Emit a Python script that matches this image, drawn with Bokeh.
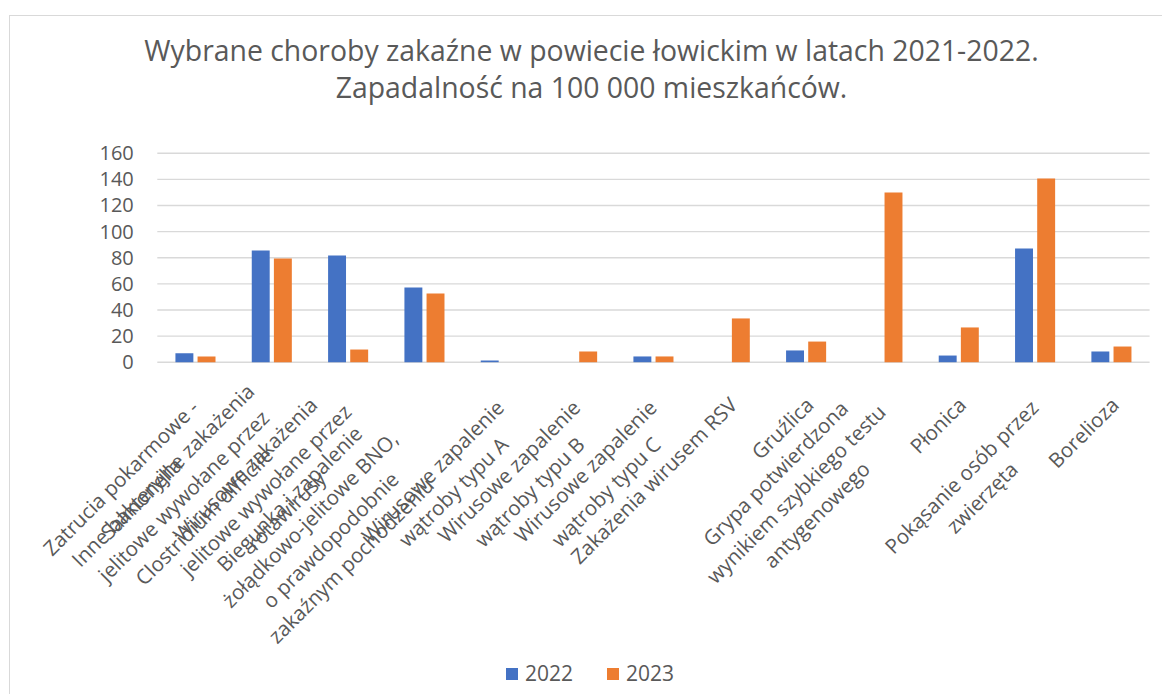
import math
from bokeh.plotting import figure
from bokeh.models import (ColumnDataSource, Range1d, Legend, LegendItem, Label, LabelSet)
from bokeh.core.properties import value
from bokeh.transform import dodge
from bokeh.embed import file_html
from bokeh.resources import INLINE

categories = [
    "Zatrucia pokarmowe -\nSalmonella",
    "Inne bakteryjne zakażenia\njelitowe wywołane przez\nClostridium difficile",
    "Wirusowe zakażenia\njelitowe wywołane przez\nrotawirusy",
    "Biegunka i zapalenie\nżołądkowo-jelitowe BNO,\no prawdopodobnie\nzakaźnym pochodzeniu",
    "Wirusowe zapalenie\nwątroby typu A",
    "Wirusowe zapalenie\nwątroby typu B",
    "Wirusowe zapalenie\nwątroby typu C",
    "Zakażenia wirusem RSV",
    "Gruźlica",
    "Grypa potwierdzona\nwynikiem szybkiego testu\nantygenowego",
    "Płonica",
    "Pokąsanie osób przez\nzwierzęta",
    "Borelioza",
]
values_2022 = [6.9, 85.5, 81.7, 57.2, 1.3, 0, 4.4, 0, 9.0, 0, 5.1, 87.1, 8.2]
values_2023 = [4.4, 79.4, 9.7, 52.6, 0, 8.2, 4.4, 33.5, 15.8, 129.9, 26.6, 140.7, 12.0]
series_names = ["2022", "2023"]
y_ticks = [0, 20, 40, 60, 80, 100, 120, 140, 160]
title_lines = ["Wybrane choroby zakaźne w powiecie łowickim w latach 2021-2022.",
               "Zapadalność na 100 000 mieszkańców."]

BLUE = "#4472C4"
ORANGE = "#ED7D31"
TXT = "#595959"
GRID = "#D9D9D9"
FONT = "Open Sans"

# canvas geometry (canvas starts at page x=10, y=16)
W, H = 1153, 679
PLOT_L = 146.8          # plot-area left edge on canvas
PX_X = 76.33            # pixels per category
Y0 = 345.7              # canvas y of value 0
PX_Y = 1.30625          # pixels per unit

n = len(categories)
pos = [i + 0.5 for i in range(n)]
src = ColumnDataSource(dict(pos=pos, cat=categories, y2022=values_2022, y2023=values_2023))

p = figure(width=W, height=H,
           x_range=Range1d(-PLOT_L / PX_X, (W - PLOT_L) / PX_X),
           y_range=Range1d(-(H - Y0) / PX_Y, Y0 / PX_Y),
           x_axis_location=None, y_axis_location=None,
           output_backend="svg", toolbar_location=None,
           min_border=0, margin=(15, 0, 0, 9),
           styles={"border-left": "1px solid #D9D9D9", "border-top": "1px solid #D9D9D9"})
p.outline_line_color = None
p.grid.visible = False

# gridlines at the value ticks, across the plot area
p.segment(x0=0, x1=n, y0=y_ticks, y1=y_ticks, line_color=GRID, line_width=1.4)

r1 = p.vbar(x=dodge("pos", -0.145), top="y2022", width=0.235, source=src,
            fill_color=BLUE, line_color=None)
r2 = p.vbar(x=dodge("pos", 0.145), top="y2023", width=0.235, source=src,
            fill_color=ORANGE, line_color=None)

# value-axis tick labels
tick_src = ColumnDataSource(dict(y=y_ticks, t=[str(v) for v in y_ticks],
                                 x=[-23.5 / PX_X] * len(y_ticks)))
p.add_layout(LabelSet(x="x", y="y", text="t", source=tick_src, text_align="right",
                      text_baseline="middle", text_font=value(FONT), text_font_size="20px",
                      text_color=TXT))

# category labels rotated by 45 degrees; block placement in the rotated frame
# (du along the text, dv across it) depends on the number of lines
DU = {1: -25.0, 2: -30.0, 3: -33.0, 4: -73.0}
DV = {1: 15.5, 2: 14.5, 3: -11.5, 4: -13.5}
c45 = math.sqrt(0.5)
for xc, c in zip(pos, categories):
    nl = c.count("\n") + 1
    du, dv = DU[nl], DV[nl]
    sx = c45 * (du + dv)
    sy = c45 * (dv - du)          # screen y, downward
    p.add_layout(Label(x=xc + sx / PX_X, y=-sy / PX_Y, text=c, angle=math.pi / 4,
                       anchor="top_right", text_align="center", text_font=FONT,
                       text_font_size="20.5px", text_color=TXT, text_line_height=1.04))

# title
tx = (581 - PLOT_L) / PX_X
for t, base in zip(title_lines, [33, 70.7]):
    p.add_layout(Label(x=tx, y=(Y0 - base) / PX_Y, text=t, text_align="center",
                       text_baseline="alphabetic", text_font=FONT, text_font_size="28.4px",
                       text_color=TXT))

legend = Legend(items=[LegendItem(label=series_names[0], renderers=[r1]),
                       LegendItem(label=series_names[1], renderers=[r2])],
                orientation="horizontal", location=(494, 8),
                glyph_width=15, glyph_height=15, label_height=15, label_standoff=6,
                spacing=32, padding=0, margin=0,
                border_line_color=None, background_fill_alpha=0,
                label_text_font=FONT, label_text_font_size="21px", label_text_color=TXT)
p.add_layout(legend, "center")

open("out.html", "w").write(file_html(p, INLINE))
